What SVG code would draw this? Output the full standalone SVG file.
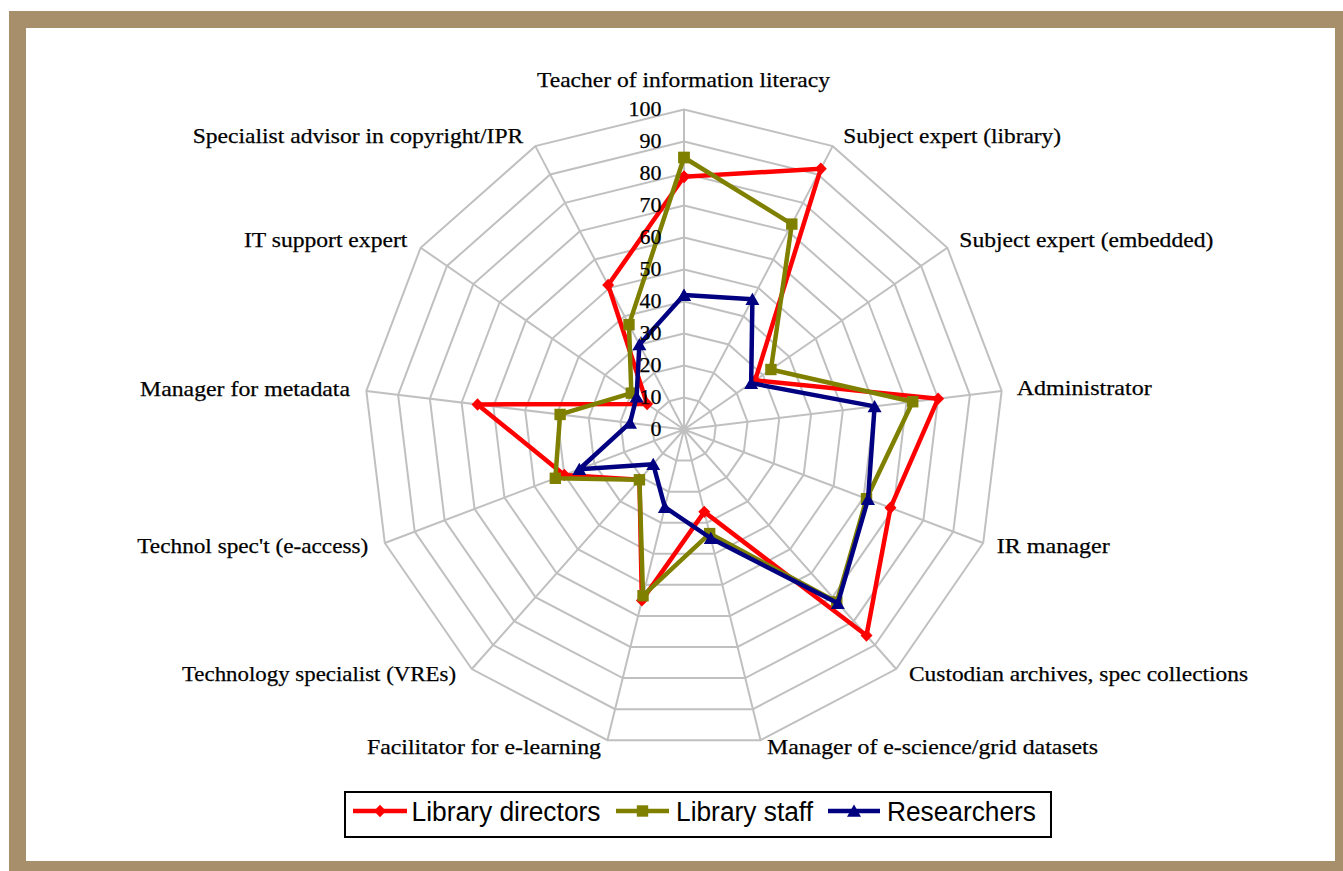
<svg xmlns="http://www.w3.org/2000/svg" width="1343" height="871" viewBox="0 0 1343 871">
<style>
.grid{fill:none;stroke:#C0C0C0;stroke-width:2}
.cat{font-family:"Liberation Serif","Times New Roman",serif;font-size:22px;fill:#000;stroke:#000;stroke-width:0.25}
.tick{font-family:"Liberation Serif","Times New Roman",serif;font-size:22px;fill:#000;stroke:#000;stroke-width:0.25;text-anchor:end}
.ser{fill:none;stroke-width:4.5;stroke-linejoin:round}
.dir{stroke:#FF0000;marker-start:url(#mDia);marker-mid:url(#mDia);marker-end:url(#mDia)}
.stf{stroke:#808000;marker-start:url(#mSq);marker-mid:url(#mSq);marker-end:url(#mSq)}
.res{stroke:#000080;marker-start:url(#mTri);marker-mid:url(#mTri);marker-end:url(#mTri)}
.leg{font-family:"Liberation Sans",Arial,sans-serif;font-size:27px;fill:#000}
</style>
<defs>
<marker id="mDia" markerUnits="userSpaceOnUse" markerWidth="14" markerHeight="14" refX="7" refY="7" overflow="visible"><path d="M7,0.8 L13,7 L7,13.2 L1,7Z" fill="#FF0000"/></marker>
<marker id="mSq" markerUnits="userSpaceOnUse" markerWidth="14" markerHeight="14" refX="7" refY="7" overflow="visible"><rect x="1.3" y="1.3" width="11.4" height="11.4" fill="#808000"/></marker>
<marker id="mTri" markerUnits="userSpaceOnUse" markerWidth="14" markerHeight="14" refX="7" refY="7" overflow="visible"><path d="M7,0.6 L14,12.8 L0,12.8Z" fill="#000080"/></marker>
</defs>
<rect width="1343" height="871" fill="#FFFFFF"/>
<rect x="9" y="11" width="1334" height="860" fill="#A88F6B"/>
<rect x="26" y="28" width="1309" height="833" fill="#FFFFFF"/>

<g id="grid" transform="translate(684,429.5)">
<path class="grid" d="M0,0L0,-320M0,0L148.71,-283.35M0,0L263.35,-181.78M0,0L317.67,-38.57M0,0L299.21,113.47M0,0L212.20,239.52M0,0L76.58,310.70M0,0L-76.58,310.70M0,0L-212.20,239.52M0,0L-299.21,113.47M0,0L-317.67,-38.57M0,0L-263.35,-181.78M0,0L-148.71,-283.35"/>
<polygon class="grid" points="0,-32 14.87,-28.34 26.34,-18.18 31.77,-3.86 29.92,11.35 21.22,23.95 7.66,31.07 -7.66,31.07 -21.22,23.95 -29.92,11.35 -31.77,-3.86 -26.34,-18.18 -14.87,-28.34"/>
<polygon class="grid" points="0,-64 29.74,-56.67 52.67,-36.36 63.53,-7.71 59.84,22.69 42.44,47.90 15.32,62.14 -15.32,62.14 -42.44,47.90 -59.84,22.69 -63.53,-7.71 -52.67,-36.36 -29.74,-56.67"/>
<polygon class="grid" points="0,-96 44.61,-85.01 79.01,-54.53 95.30,-11.57 89.76,34.04 63.66,71.86 22.97,93.21 -22.97,93.21 -63.66,71.86 -89.76,34.04 -95.30,-11.57 -79.01,-54.53 -44.61,-85.01"/>
<polygon class="grid" points="0,-128 59.48,-113.34 105.34,-72.71 127.07,-15.43 119.68,45.39 84.88,95.81 30.63,124.28 -30.63,124.28 -84.88,95.81 -119.68,45.39 -127.07,-15.43 -105.34,-72.71 -59.48,-113.34"/>
<polygon class="grid" points="0,-160 74.36,-141.68 131.68,-90.89 158.84,-19.29 149.61,56.74 106.10,119.76 38.29,155.35 -38.29,155.35 -106.10,119.76 -149.61,56.74 -158.84,-19.29 -131.68,-90.89 -74.36,-141.68"/>
<polygon class="grid" points="0,-192 89.23,-170.01 158.01,-109.07 190.60,-23.14 179.53,68.08 127.32,143.71 45.95,186.42 -45.95,186.42 -127.32,143.71 -179.53,68.08 -190.60,-23.14 -158.01,-109.07 -89.23,-170.01"/>
<polygon class="grid" points="0,-224 104.10,-198.35 184.35,-127.25 222.37,-27.00 209.45,79.43 148.54,167.66 53.61,217.49 -53.61,217.49 -148.54,167.66 -209.45,79.43 -222.37,-27.00 -184.35,-127.25 -104.10,-198.35"/>
<polygon class="grid" points="0,-256 118.97,-226.68 210.68,-145.42 254.14,-30.86 239.37,90.78 169.76,191.62 61.26,248.56 -61.26,248.56 -169.76,191.62 -239.37,90.78 -254.14,-30.86 -210.68,-145.42 -118.97,-226.68"/>
<polygon class="grid" points="0,-288 133.84,-255.02 237.02,-163.60 285.90,-34.71 269.29,102.12 190.98,215.57 68.92,279.63 -68.92,279.63 -190.98,215.57 -269.29,102.12 -285.90,-34.71 -237.02,-163.60 -133.84,-255.02"/>
<polygon class="grid" points="0,-320 148.71,-283.35 263.35,-181.78 317.67,-38.57 299.21,113.47 212.20,239.52 76.58,310.70 -76.58,310.70 -212.20,239.52 -299.21,113.47 -317.67,-38.57 -263.35,-181.78 -148.71,-283.35"/>
</g>

<g id="series" transform="translate(684,429.5)">
<polygon id="library-directors" class="ser dir" points="0,-252.8 136.81,-260.68 71.11,-49.08 254.13,-30.86 206.45,78.30 182.49,205.99 20.29,82.34 -42.12,170.89 -44.56,50.30 -119.68,45.39 -206.48,-25.07 -36.87,-25.45 -75.84,-144.51"/>
<polygon id="library-staff" class="ser stf" points="0,-272 107.82,-205.43 86.91,-59.99 228.72,-27.77 182.52,69.22 152.78,172.46 25.65,104.08 -40.97,166.22 -44.56,50.30 -128.66,48.79 -123.89,-15.04 -52.67,-36.36 -55.02,-104.84"/>
<polygon id="researchers" class="ser res" points="0,-134.4 68.41,-130.34 67.16,-46.35 190.60,-23.14 184.01,69.79 153.84,173.65 26.80,108.75 -19.15,77.68 -30.77,34.73 -104.72,39.72 -54.00,-6.56 -47.40,-32.72 -44.61,-85.01"/>
</g>

<g id="value-axis">
<text class="tick" x="661.5" y="436">0</text>
<text class="tick" x="661.5" y="404">10</text>
<text class="tick" x="661.5" y="372">20</text>
<text class="tick" x="661.5" y="340">30</text>
<text class="tick" x="661.5" y="308">40</text>
<text class="tick" x="661.5" y="276">50</text>
<text class="tick" x="661.5" y="244">60</text>
<text class="tick" x="661.5" y="212">70</text>
<text class="tick" x="661.5" y="180">80</text>
<text class="tick" x="661.5" y="148">90</text>
<text class="tick" x="661.5" y="116">100</text>
</g>

<g id="categories">
<text id="cat-0" class="cat" x="537" y="87" textLength="293" lengthAdjust="spacingAndGlyphs">Teacher of information literacy</text>
<text id="cat-1" class="cat" x="843.3" y="143.3" textLength="217.7" lengthAdjust="spacingAndGlyphs">Subject expert (library)</text>
<text id="cat-2" class="cat" x="959.3" y="246.7" textLength="254" lengthAdjust="spacingAndGlyphs">Subject expert (embedded)</text>
<text id="cat-3" class="cat" x="1016.7" y="395" textLength="135" lengthAdjust="spacingAndGlyphs">Administrator</text>
<text id="cat-4" class="cat" x="996.7" y="553.3" textLength="113" lengthAdjust="spacingAndGlyphs">IR manager</text>
<text id="cat-5" class="cat" x="909" y="681" textLength="339" lengthAdjust="spacingAndGlyphs">Custodian archives, spec collections</text>
<text id="cat-6" class="cat" x="767" y="754" textLength="331" lengthAdjust="spacingAndGlyphs">Manager of e-science/grid datasets</text>
<text id="cat-7" class="cat" x="367" y="754" textLength="234" lengthAdjust="spacingAndGlyphs">Facilitator for e-learning</text>
<text id="cat-8" class="cat" x="182" y="681" textLength="274" lengthAdjust="spacingAndGlyphs">Technology specialist (VREs)</text>
<text id="cat-9" class="cat" x="137.3" y="553.3" textLength="231" lengthAdjust="spacingAndGlyphs">Technol spec't (e-access)</text>
<text id="cat-10" class="cat" x="140" y="396" textLength="210" lengthAdjust="spacingAndGlyphs">Manager for metadata</text>
<text id="cat-11" class="cat" x="244" y="246.7" textLength="163.3" lengthAdjust="spacingAndGlyphs">IT support expert</text>
<text id="cat-12" class="cat" x="192.7" y="143.3" textLength="330.6" lengthAdjust="spacingAndGlyphs">Specialist advisor in copyright/IPR</text>
</g>

<g id="legend">
<rect x="345" y="792" width="706" height="45" fill="#FFFFFF" stroke="#000000" stroke-width="2"/>
<path class="ser dir" d="M353,811 L380,811 L407,811" style="marker-start:none;marker-end:none"/>
<text class="leg" x="411.5" y="821" textLength="189" lengthAdjust="spacingAndGlyphs">Library directors</text>
<path class="ser stf" d="M616,811 L642.5,811 L669,811" style="marker-start:none;marker-end:none"/>
<text class="leg" x="676" y="821" textLength="137" lengthAdjust="spacingAndGlyphs">Library staff</text>
<path class="ser res" d="M828,811 L854,811 L880,811" style="marker-start:none;marker-end:none"/>
<text class="leg" x="887" y="821" textLength="149" lengthAdjust="spacingAndGlyphs">Researchers</text>
</g>
</svg>
